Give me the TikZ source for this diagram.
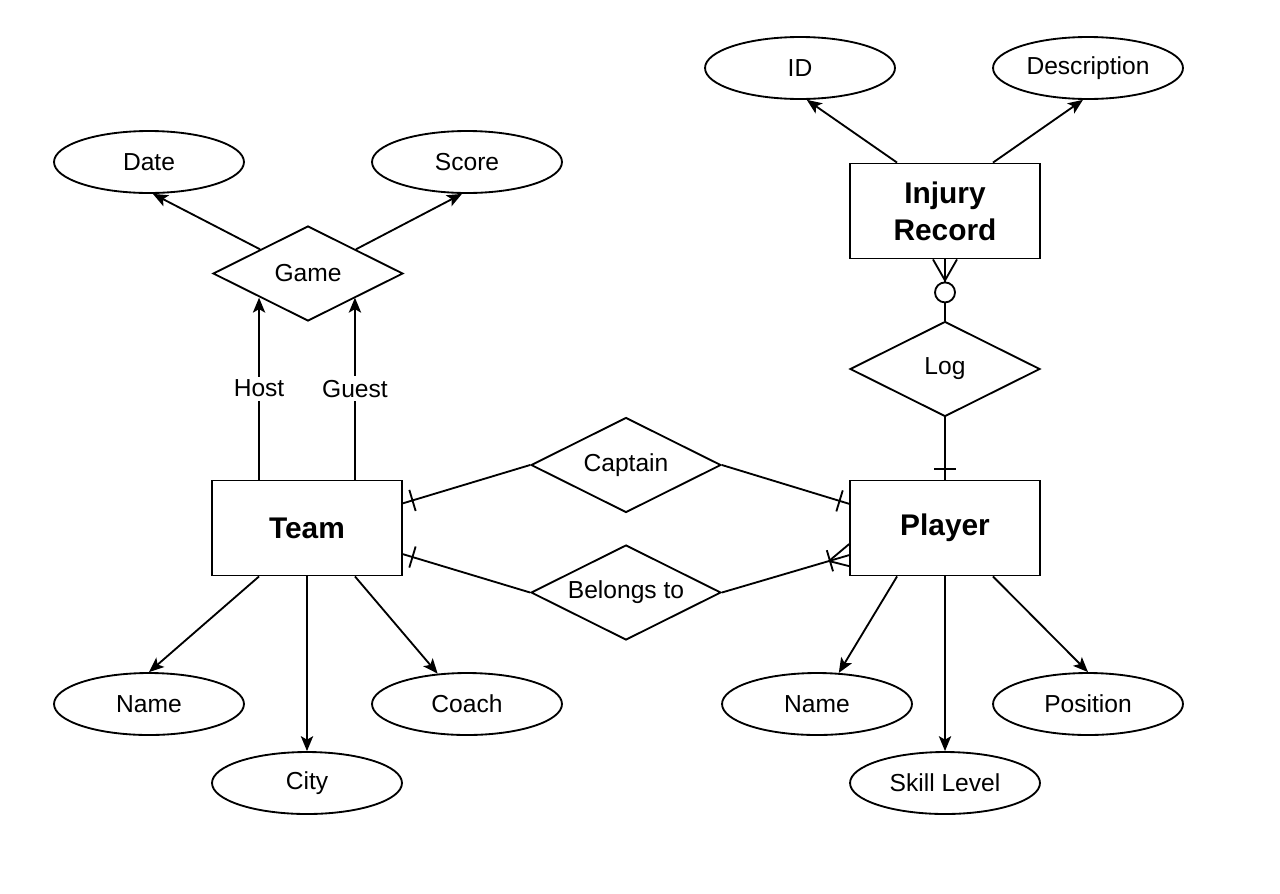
\documentclass[tikz,border=0pt]{standalone}
\usepackage{fontspec}
\setmainfont{Liberation Sans}
\usetikzlibrary{shapes.geometric,arrows.meta,calc}
\newcommand\erbar[3]{\path ($(#1)!#3!(#2)$) coordinate (ebp); \draw ($(ebp)!0.22cm!90:(#2)$) -- ($(ebp)!0.22cm!-90:(#2)$);}
\begin{document}
\begin{tikzpicture}[x=0.02cm,y=-0.02cm, line width=1.05pt,
 attr/.style={ellipse,draw,minimum width=3.8cm,minimum height=1.24cm,inner sep=0pt,font=\fontsize{14}{16}\selectfont},
 ent/.style={rectangle,draw,minimum width=3.8cm,minimum height=1.9cm,inner sep=0pt,font=\bfseries\fontsize{17}{21}\selectfont,align=center},
 rel/.style={diamond,draw,minimum width=3.8cm,minimum height=1.9cm,inner sep=0pt,aspect=2,font=\fontsize{14}{16}\selectfont},
 arr/.style={-{Stealth[length=8.5pt,width=7pt,inset=2pt]}},
 lbl/.style={fill=white,inner sep=2pt,font=\fontsize{14}{16}\selectfont}]
\useasboundingbox (0,0) rectangle (1280,893);
% entities
\node[ent] (team) at (307,528) {Team};
\node[ent] (player) at (945,528) {Player};
\node[ent] (injury) at (945,211) {Injury\\Record};
% relationships
\node[rel] (game) at (308,273.5) {Game};
\node[rel] (captain) at (626,465) {Captain};
\node[rel] (belongs) at (626,592.5) {Belongs to};
\node[rel] (log) at (945,369) {Log};
% attributes
\node[attr] (date) at (149,162) {Date};
\node[attr] (score) at (467,162) {Score};
\node[attr] (id) at (800,68) {ID};
\node[attr] (desc) at (1088,68) {Description};
\node[attr] (tname) at (149,704) {Name};
\node[attr] (city) at (307,783) {City};
\node[attr] (coach) at (467,704) {Coach};
\node[attr] (pname) at (817,704) {Name};
\node[attr] (skill) at (945,783) {Skill Level};
\node[attr] (pos) at (1088,704) {Position};
% helper coordinates
\coordinate (tN1) at ($(team.north west)!0.25!(team.north east)$);
\coordinate (tN2) at ($(team.north west)!0.75!(team.north east)$);
\coordinate (tS1) at ($(team.south west)!0.25!(team.south east)$);
\coordinate (tS2) at ($(team.south west)!0.75!(team.south east)$);
\coordinate (pS1) at ($(player.south west)!0.25!(player.south east)$);
\coordinate (pS2) at ($(player.south west)!0.75!(player.south east)$);
\coordinate (iN1) at ($(injury.north west)!0.25!(injury.north east)$);
\coordinate (iN2) at ($(injury.north west)!0.75!(injury.north east)$);
\coordinate (gNW) at ($(game.north)!0.5!(game.west)$);
\coordinate (gNE) at ($(game.north)!0.5!(game.east)$);
\coordinate (gSW) at ($(game.south)!0.5!(game.west)$);
\coordinate (gSE) at ($(game.south)!0.5!(game.east)$);
\coordinate (tE1) at ($(team.north east)!0.245!(team.south east)$);
\coordinate (tE2) at ($(team.north east)!0.77!(team.south east)$);
\coordinate (pW1) at ($(player.north west)!0.25!(player.south west)$);
\coordinate (pW2) at ($(player.north west)!0.78!(player.south west)$);
% attribute arrows
\draw[arr] (gNW) -- (date.-83);
\draw[arr] (gNE) -- (score.-99);
\draw[arr] (iN1) -- (id.-78);
\draw[arr] (iN2) -- (desc.-99);
\draw[arr] (tS1) -- (tname.north);
\draw[arr] (team.south) -- (city.north);
\draw[arr] (tS2) -- (coach.134);
\draw[arr] (pS1) -- (pname.55);
\draw[arr] (player.south) -- (skill.north);
\draw[arr] (pS2) -- (pos.north);
% host / guest
\draw[arr] (tN1) -- (tN1 |- gSW) node[midway,lbl] {Host};
\draw[arr] (tN2) -- (tN2 |- gSE) node[midway,lbl] {Guest};
% relationship lines
\draw (tE1) -- (captain.west);
\draw (captain.east) -- (pW1);
\draw (tE2) -- (belongs.west);
\draw (belongs.east) -- (pW2);
\draw (injury.south) -- (log.north);
\draw (log.south) -- (player.north);
% cardinality marks
\erbar{tE1}{captain.west}{0.2cm}
\erbar{tE2}{belongs.west}{0.2cm}
\erbar{pW1}{captain.east}{0.2cm}
\erbar{pW2}{belongs.east}{0.4cm}
\erbar{player.north}{log.south}{0.22cm}
% crow's foot at Player (belongs to)
\path ($(pW2)!0.42cm!(belongs.east)$) coordinate (cfp);
\draw (cfp) -- ($(pW2)+(0,-11)$);
\draw (cfp) -- ($(pW2)+(0,11)$);
% crow's foot + circle at Injury Record
\path ($(injury.south)!0.42cm!(log.north)$) coordinate (cfi);
\draw (cfi) -- ($(injury.south)+(-12,0)$);
\draw (cfi) -- ($(injury.south)+(12,0)$);
\node[circle,draw,fill=white,minimum size=0.4cm,inner sep=0pt] (zc) at ($(injury.south)!0.66cm!(log.north)$) {};
\end{tikzpicture}
\end{document}
